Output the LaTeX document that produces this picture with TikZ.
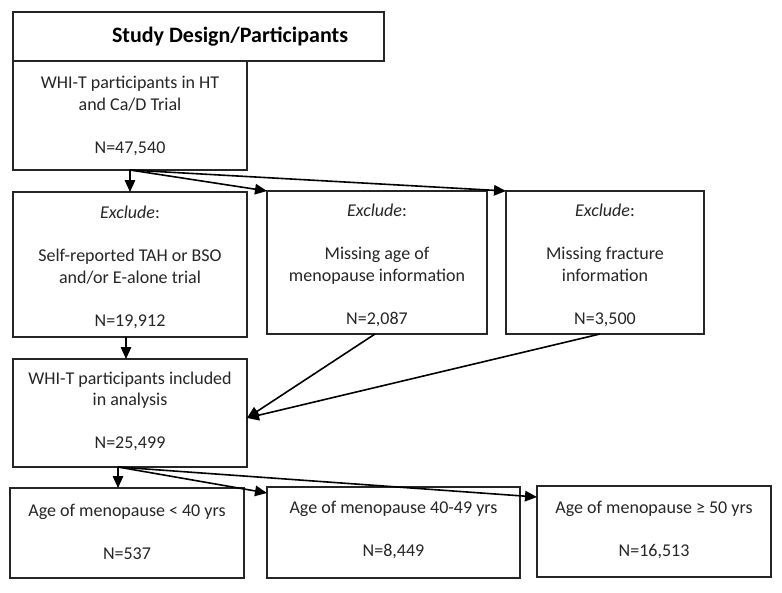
\documentclass[tikz,border=0pt]{standalone}
\usepackage{fontspec}
\setmainfont{Carlito}
\usetikzlibrary{arrows.meta,calc}
\begin{document}
\begin{tikzpicture}[x=1pt,y=-1pt,
  box/.style={draw=black!85, line width=1.5pt, inner sep=0pt, outer sep=0pt, anchor=north west},
  txt/.style={align=center, inner sep=0pt, font=\fontsize{18}{21.5}\selectfont, text=black!85, yshift=-2pt},
  arr/.style={draw=black, line width=1.6pt, -{Triangle[length=12pt,width=10.5pt]}}]
\useasboundingbox[fill=white] (0,0) rectangle (782,592);
% boxes
\node[box, minimum width=371pt, minimum height=49pt] (title) at (13,12) {};
\node[box, minimum width=234pt, minimum height=109pt] (b1) at (13,61) {};
\node[box, minimum width=234pt, minimum height=145pt] (ex1) at (13,192) {};
\node[box, minimum width=220pt, minimum height=143pt] (ex2) at (267,191) {};
\node[box, minimum width=198pt, minimum height=143pt] (ex3) at (506,191) {};
\node[box, minimum width=234pt, minimum height=108pt] (an) at (13,359) {};
\node[box, minimum width=234pt, minimum height=90pt] (bt1) at (10,488) {};
\node[box, minimum width=253pt, minimum height=91pt] (bt2) at (267,487) {};
\node[box, minimum width=234pt, minimum height=91pt] (bt3) at (537,486) {};
% texts
\node[txt, font=\fontsize{22}{26}\selectfont\bfseries, text=black] (ttitle) at (230,35) {Study Design/Participants};
\node[txt] (tb1) at (130,114) {WHI-T participants in HT\\and Ca/D Trial\\[21.5pt]N=47,540};
\node[txt] (tex1) at (130,265.5) {\textit{Exclude}:\\[21.5pt]Self-reported TAH or BSO\\and/or E-alone trial\\[21.5pt]N=19,912};
\node[txt] (tex2) at (377,263.5) {\textit{Exclude}:\\[21.5pt]Missing age of\\menopause information\\[21.5pt]N=2,087};
\node[txt] (tex3) at (605,263.5) {\textit{Exclude}:\\[21.5pt]Missing fracture\\information\\[21.5pt]N=3,500};
\node[txt] (tan) at (130,409.5) {WHI-T participants included\\in analysis\\[21.5pt]N=25,499};
\node[txt] (tbt1) at (127,529.5) {Age of menopause < 40 yrs\\[21.5pt]N=537};
\node[txt] (tbt2) at (393.5,527.5) {Age of menopause 40-49 yrs\\[21.5pt]N=8,449};
\node[txt] (tbt3) at (654,527.5) {Age of menopause ≥ 50 yrs\\[21.5pt]N=16,513};
% connectors
\draw[arr] (b1.south) -- (ex1.north);
\draw[arr] (b1.south) -- (ex2.north west);
\draw[arr] (b1.south) -- (ex3.north west);
\draw[arr] ([xshift=-4pt]ex1.south) -- ([xshift=-4pt]an.north);
\coordinate (anin) at ([yshift=-5pt]an.east);
\draw[arr] ([xshift=-2pt]ex2.south) -- (anin);
\draw[arr] ([xshift=-5pt]ex3.south) -- (anin);
\coordinate (ao) at ([xshift=-12pt]an.south);
\draw[arr] (ao) -- (ao |- bt1.north);
\draw[arr] (ao) -- ([yshift=-6pt]bt2.north west);
\draw[arr] (ao) -- ([yshift=-11pt]bt3.north west);
\end{tikzpicture}
\end{document}
